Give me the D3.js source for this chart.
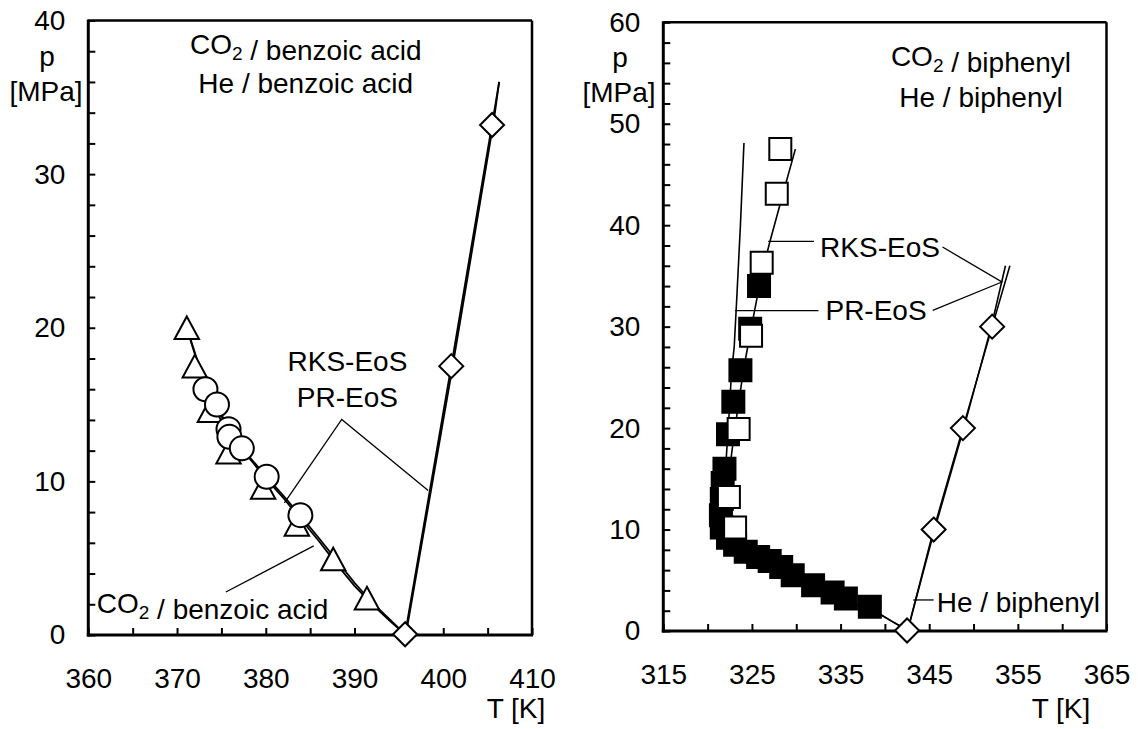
<!DOCTYPE html>
<html>
<head>
<meta charset="utf-8">
<script src="https://cdn.jsdelivr.net/npm/d3@7"></script>
<style>
body{margin:0;background:#fff;}
svg text{font-family:Arial,"Liberation Sans",sans-serif;fill:#000;}
</style>
</head>
<body>
<div id="contents"></div>
<script>
// ---- left panel: benzoic acid ----
var benzTriT = [371.1, 372.0, 373.7, 375.8, 379.7, 383.5, 387.6, 391.4];
var benzTriP = [20.0, 17.5, 14.6, 11.9, 9.6, 7.2, 4.95, 2.4];
var benzCircT = [373.2, 374.5, 375.8, 375.9, 377.3, 380.1, 383.9];
var benzCircP = [16.0, 15.0, 13.4, 12.9, 12.15, 10.3, 7.8];
var benzHeT = [395.7, 400.9, 405.5];
var benzHeP = [0.05, 17.5, 33.2];
var benzCO2RksT = [371.5, 372.5, 374.0, 376.0, 378.0, 380.0, 382.0, 384.0, 386.0, 388.0, 390.0, 392.0, 394.0, 395.6];
var benzCO2RksP = [19.2, 17.4, 15.3, 13.2, 11.6, 10.2, 8.9, 7.5, 6.1, 4.6, 3.2, 2.0, 0.9, 0.1];
var benzCO2PrT = [371.5, 372.5, 374.0, 376.0, 378.0, 380.0, 382.0, 384.0, 386.0, 388.0, 390.0, 392.0, 394.0, 395.6];
var benzCO2PrP = [19.3, 17.5, 15.4, 13.3, 11.7, 10.35, 9.05, 7.7, 6.3, 4.85, 3.4, 2.1, 1.0, 0.1];
var benzHeRksT = [395.8, 400.9, 405.6, 406.3];
var benzHeRksP = [0.4, 17.5, 33.6, 36.0];
var benzHePrT = [395.9, 401.0, 405.7, 406.3];
var benzHePrP = [0.4, 17.3, 33.5, 36.0];

// ---- right panel: biphenyl ----
var biphOpenT = [328.2, 327.8, 326.1, 324.9, 323.5, 322.4, 323.1];
var biphOpenP = [47.5, 43.1, 36.3, 29.1, 19.9, 13.2, 10.2];
var biphFilledT = [325.8, 324.8, 323.7, 322.9, 322.3, 321.9, 321.7, 321.6, 321.5, 321.6, 322.3, 323.1, 324.3, 325.7, 327.0, 328.3, 329.6, 331.9, 334.1, 335.6, 338.3];
var biphFilledP = [34.0, 29.8, 25.7, 22.6, 19.4, 16.0, 14.6, 13.0, 11.4, 10.2, 9.2, 8.5, 7.8, 7.3, 6.9, 6.3, 5.5, 4.5, 3.8, 3.2, 2.4];
var biphHeT = [342.5, 345.5, 348.8, 352.1];
var biphHeP = [0.05, 10.0, 20.0, 30.0];
var biphCO2RksT = [329.9, 328.5, 327.0, 326.2, 325.5, 324.8, 324.1, 323.5, 323.0, 322.5, 322.1, 322.0, 322.3, 323.0, 324.2, 325.7, 327.5, 329.5, 332.0, 334.5, 337.0, 338.8, 340.7, 342.5];
var biphCO2RksP = [47.5, 43.1, 38.3, 35.5, 32.5, 29.3, 26.0, 22.5, 19.5, 16.0, 13.0, 11.0, 9.8, 8.9, 8.1, 7.4, 6.6, 5.6, 4.5, 3.4, 2.5, 2.0, 1.0, 0.1];
var biphCO2PrT = [324.1, 323.7, 323.3, 323.0, 322.7, 322.4, 322.1, 321.9, 321.8, 322.0, 322.6, 323.6, 325.0, 326.8, 329.0, 331.5, 334.2, 337.0, 338.8, 340.7, 342.5];
var biphCO2PrP = [48.1, 40.0, 33.0, 28.0, 25.6, 21.0, 17.0, 14.0, 12.0, 10.6, 9.5, 8.6, 7.8, 7.1, 6.2, 5.0, 3.8, 2.6, 2.0, 1.0, 0.1];
var biphHeRksT = [342.7, 345.5, 348.8, 352.1, 354.1];
var biphHeRksP = [0.5, 10.0, 20.0, 30.0, 36.0];
var biphHePrT = [342.7, 345.6, 348.9, 352.0, 353.6];
var biphHePrP = [0.5, 10.0, 20.0, 30.0, 36.0];

// ---- axes ----
var benzXLabels = [360, 370, 380, 390, 400, 410];
var benzYLabels = [0, 10, 20, 30, 40];
var biphXLabels = [315, 325, 335, 345, 355, 365];
var biphYLabels = [0, 10, 20, 30, 40, 50, 60];

var width = 1138, height = 729;
var svg = d3.select("#contents").append("svg")
    .attr("width", width)
    .attr("height", height);
svg.append("rect").attr("width", width).attr("height", height).attr("fill", "#fff");

// parts: plain strings, or {s: "2"} for a subscript
function addText(g, x, y, parts, anchor){
    var t = g.append("text")
        .attr("x", x).attr("y", y)
        .attr("font-size", 28)
        .attr("text-anchor", anchor || "middle");
    parts.forEach(function(part){
        if(typeof part === "object"){
            t.append("tspan").attr("font-size", 19).attr("dy", 6).text(part.s);
            t.append("tspan").attr("dy", -6).text("");
        } else {
            t.append("tspan").text(part);
        }
    });
    return t;
}

function drawPanel(cfg){
    var x = d3.scaleLinear().domain(cfg.tDomain).range([cfg.left, cfg.right]);
    var y = d3.scaleLinear().domain(cfg.pDomain).range([cfg.bottom, cfg.top]);
    var g = svg.append("g");

    var xAxis = d3.axisBottom(x)
        .tickValues(d3.range(cfg.tDomain[0], cfg.tDomain[1] + 0.1, 5))
        .tickSizeInner(-7).tickSizeOuter(0).tickPadding(33)
        .tickFormat(function(d){ return cfg.xLabels.indexOf(d) >= 0 ? d : ""; });
    var yAxis = d3.axisLeft(y)
        .tickValues(d3.range(cfg.pDomain[0], cfg.pDomain[1] + 0.1, 2))
        .tickSizeInner(-7).tickSizeOuter(0).tickPadding(23)
        .tickFormat(function(d){ return cfg.yLabels.indexOf(d) >= 0 ? d : ""; });

    var gx = g.append("g").attr("transform", "translate(0," + cfg.bottom + ")").call(xAxis);
    var gy = g.append("g").attr("transform", "translate(" + cfg.left + ",0)").call(yAxis);
    [gx, gy].forEach(function(a){
        a.select(".domain").remove();
        a.attr("font-size", 28).attr("font-family", "Arial,'Liberation Sans',sans-serif");
        a.selectAll(".tick line").attr("stroke", "#000").attr("stroke-width", 2);
        a.selectAll(".tick text").attr("fill", "#000");
    });

    // frame
    g.append("line").attr("x1", cfg.left).attr("x2", cfg.right).attr("y1", cfg.top).attr("y2", cfg.top)
        .attr("stroke", "#000").attr("stroke-width", 2.5);
    g.append("line").attr("x1", cfg.right).attr("x2", cfg.right).attr("y1", cfg.top).attr("y2", cfg.bottom)
        .attr("stroke", "#000").attr("stroke-width", 2.5);
    g.append("line").attr("x1", cfg.left).attr("x2", cfg.left).attr("y1", cfg.top - 1).attr("y2", cfg.bottom + 1.5)
        .attr("stroke", "#000").attr("stroke-width", 3);
    g.append("line").attr("x1", cfg.left - 1.5).attr("x2", cfg.right + 1).attr("y1", cfg.bottom).attr("y2", cfg.bottom)
        .attr("stroke", "#000").attr("stroke-width", 3.2);

    // axis titles
    addText(g, cfg.pLabelX, cfg.top + 45, ["p"]);
    addText(g, cfg.pLabelX - 1, cfg.top + 80, ["[MPa]"]);
    addText(g, cfg.tLabelX, 718, ["T [K]"]);

    return {x: x, y: y, g: g};
}

function curve(panel, T, P, w){
    var line = d3.line().x(function(d){ return panel.x(d[0]); }).y(function(d){ return panel.y(d[1]); });
    panel.g.append("path")
        .datum(d3.zip(T, P))
        .attr("d", line)
        .attr("fill", "none")
        .attr("stroke", "#000")
        .attr("stroke-width", w || 1.8)
        .attr("stroke-linejoin", "round");
}

function leader(panel, pts){
    var line = d3.line().x(function(d){ return panel.x(d[0]); }).y(function(d){ return panel.y(d[1]); });
    panel.g.append("path").attr("d", line(pts))
        .attr("fill", "none").attr("stroke", "#000").attr("stroke-width", 1.3);
}

function markers(panel, T, P, shape, fill){
    return panel.g.append("g").selectAll("path")
        .data(d3.zip(T, P))
        .enter().append("path")
        .attr("transform", function(d){ return "translate(" + panel.x(d[0]) + "," + panel.y(d[1]) + ")"; })
        .attr("fill", fill || "#fff")
        .attr("stroke", "#000")
        .attr("stroke-width", 2)
        .attr("d", function(){
            if(shape === "triangle") return "M0,-11.3L12.2,11.3L-12.2,11.3Z";
            if(shape === "circle") return "M12,0A12,12 0 1,1 -12,0A12,12 0 1,1 12,0Z";
            if(shape === "square") return "M-11,-11H11V11H-11Z";
            return "M0,-12L12,0L0,12L-12,0Z";
        });
}

// ---- left panel ----
var L = drawPanel({
    left: 88.3, right: 532, top: 20.5, bottom: 635,
    tDomain: [360, 410], pDomain: [0, 40],
    xLabels: benzXLabels, yLabels: benzYLabels,
    pLabelX: 47, tLabelX: 516
});

curve(L, benzCO2RksT, benzCO2RksP, 1.8);
curve(L, benzCO2PrT, benzCO2PrP, 1.8);
curve(L, benzHeRksT, benzHeRksP, 1.8);
curve(L, benzHePrT, benzHePrP, 1.8);

leader(L, [[382.1, 8.6], [388.56, 14.03], [398.3, 9.4]]);
leader(L, [[375.5, 2.8], [385.4, 5.8]]);

markers(L, benzTriT, benzTriP, "triangle");
markers(L, benzCircT, benzCircP, "circle");
markers(L, benzHeT, benzHeP, "diamond");

addText(L.g, L.x(384.5), L.y(37.8), ["CO", {s: "2"}, " / benzoic acid"]);
addText(L.g, L.x(384.5), L.y(35.25), ["He / benzoic acid"]);
addText(L.g, L.x(389.2), L.y(17.2), ["RKS-EoS"]);
addText(L.g, L.x(389.2), L.y(14.86), ["PR-EoS"]);
addText(L.g, L.x(360.95), L.y(1.42), ["CO", {s: "2"}, " / benzoic acid"], "start");

// ---- right panel ----
var R = drawPanel({
    left: 663.3, right: 1106.5, top: 22.3, bottom: 631,
    tDomain: [315, 365], pDomain: [0, 60],
    xLabels: biphXLabels, yLabels: biphYLabels,
    pLabelX: 620, tLabelX: 1061
});

curve(R, biphCO2RksT, biphCO2RksP, 1.6);
curve(R, biphCO2PrT, biphCO2PrP, 1.6);
curve(R, biphHeRksT, biphHeRksP, 1.6);
curve(R, biphHePrT, biphHePrP, 1.6);

leader(R, [[326.84, 38.4], [332.0, 38.4]]);
leader(R, [[323.1, 31.57], [332.5, 31.57]]);
leader(R, [[346.5, 37.85], [353.2, 34.4], [345.4, 31.6]]);
leader(R, [[343.2, 3.06], [345.5, 3.06]]);

markers(R, biphFilledT, biphFilledP, "square", "#000");
markers(R, biphOpenT, biphOpenP, "square");
markers(R, biphHeT, biphHeP, "diamond");

addText(R.g, R.x(350.84), R.y(55.65), ["CO", {s: "2"}, " / biphenyl"]);
addText(R.g, R.x(350.84), R.y(51.65), ["He / biphenyl"]);
addText(R.g, R.x(339.45), R.y(36.9), ["RKS-EoS"]);
addText(R.g, R.x(339.0), R.y(30.66), ["PR-EoS"]);
addText(R.g, R.x(345.84), R.y(1.9), ["He / biphenyl"], "start");
</script>
</body>
</html>
